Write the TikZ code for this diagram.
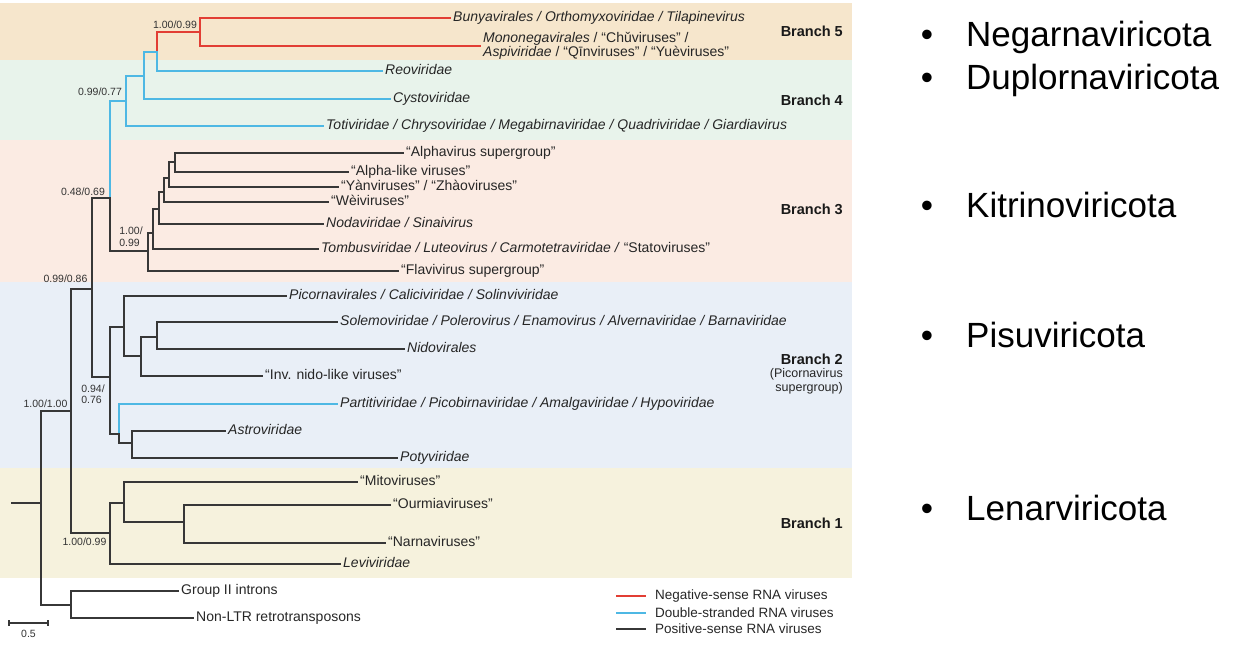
\documentclass[tikz,border=0pt]{standalone}
\usepackage{fontspec}
\setmainfont{Liberation Sans}
\definecolor{negred}{RGB}{226,62,52}
\definecolor{dsblue}{RGB}{78,184,228}
\definecolor{poscol}{RGB}{55,55,55}
\definecolor{bandA}{RGB}{246,230,204}
\definecolor{bandB}{RGB}{232,243,235}
\definecolor{bandC}{RGB}{251,235,227}
\definecolor{bandD}{RGB}{233,239,247}
\definecolor{bandE}{RGB}{246,242,221}
\tikzset{
  treeline/.style={line width=1.5pt, line cap=rect, line join=miter},
  posline/.style={treeline, draw=poscol},
  negline/.style={treeline, draw=negred},
  dsline/.style={treeline, draw=dsblue},
  leaf/.style={anchor=west, inner xsep=3pt, inner ysep=0pt, text height=10pt, text depth=3pt, font=\fontsize{14}{14}\selectfont, text=black!85},
  twoline/.style={anchor=west, inner xsep=3pt, inner ysep=0pt, align=left, font=\fontsize{14}{11.5}\selectfont, text=black!85},
  sup/.style={font=\fontsize{10.5}{11.5}\selectfont, inner sep=0pt, text=black!80, align=left},
  brlab/.style={anchor=east, inner sep=0pt, font=\fontsize{14.5}{15}\selectfont\bfseries, text=black!90},
  brsub/.style={anchor=east, inner sep=0pt, font=\fontsize{12.5}{13}\selectfont, text=black!85},
  legtext/.style={anchor=west, inner sep=0pt, font=\fontsize{13.5}{14}\selectfont, text=black!85},
  bigtext/.style={anchor=base west, inner sep=0pt, font=\fontsize{35}{38}\selectfont},
  bulmark/.style={anchor=base, inner sep=0pt, font=\fontsize{35}{38}\selectfont}
}
\begin{document}
\begin{tikzpicture}[x=1pt,y=-1pt]
\useasboundingbox (0,0) rectangle (1234,645);
% background bands
\fill[bandA] (0,3) rectangle (852,60);
\fill[bandB] (0,60) rectangle (852,140);
\fill[bandC] (0,140) rectangle (852,282);
\fill[bandD] (0,282) rectangle (852,468);
\fill[bandE] (0,468) rectangle (852,578);

% leaves
\node[leaf] (bunya) at (450,18) {\textit{Bunyavirales / Orthomyxoviridae / Tilapinevirus}};
\node[twoline] (mono) at (480,46) {\textit{Mononegavirales} / “Chǔviruses” /\\\textit{Aspiviridae} / “Qīnviruses” / “Yuèviruses”};
\node[leaf] (reo) at (382,71) {\textit{Reoviridae}};
\node[leaf] (cysto) at (390,99) {\textit{Cystoviridae}};
\node[leaf] (toti) at (323,126) {\textit{Totiviridae / Chrysoviridae / Megabirnaviridae / Quadriviridae / Giardiavirus}};
\node[leaf] (alpha) at (403,153) {“Alphavirus supergroup”};
\node[leaf] (alphal) at (348,172) {“Alpha-like viruses”};
\node[leaf] (yan) at (338,187) {“Yànviruses” / “Zhàoviruses”};
\node[leaf] (wei) at (328,202) {“Wèiviruses”};
\node[leaf] (noda) at (323,224) {\textit{Nodaviridae / Sinaivirus}};
\node[leaf] (tombus) at (318,249) {\textit{Tombusviridae / Luteovirus / Carmotetraviridae /} “Statoviruses”};
\node[leaf] (flavi) at (398,271) {“Flavivirus supergroup”};
\node[leaf] (picorna) at (286,296) {\textit{Picornavirales / Caliciviridae / Solinviviridae}};
\node[leaf] (solemo) at (337,322) {\textit{Solemoviridae / Polerovirus / Enamovirus / Alvernaviridae / Barnaviridae}};
\node[leaf] (nido) at (404,349) {\textit{Nidovirales}};
\node[leaf] (inv) at (262,376) {“Inv. nido-like viruses”};
\node[leaf] (partiti) at (337,404) {\textit{Partitiviridae / Picobirnaviridae / Amalgaviridae / Hypoviridae}};
\node[leaf] (astro) at (225,431) {\textit{Astroviridae}};
\node[leaf] (poty) at (397,458) {\textit{Potyviridae}};
\node[leaf] (mito) at (357,482) {“Mitoviruses”};
\node[leaf] (ourmia) at (390,505) {“Ourmiaviruses”};
\node[leaf] (narna) at (385,543) {“Narnaviruses”};
\node[leaf] (levi) at (340,564) {\textit{Leviviridae}};
\node[leaf] (group2) at (178,591) {Group II introns};
\node[leaf] (nonltr) at (193,618) {Non-LTR retrotransposons};

% internal nodes
\coordinate (n200) at (200,32);
\coordinate (n157) at (157,52);
\coordinate (n144) at (144,76);
\coordinate (n126) at (126,101);
\coordinate (n110) at (110,198);
\coordinate (n175) at (175,162);
\coordinate (n169) at (169,178);
\coordinate (n164) at (164,192);
\coordinate (n158) at (159,209);
\coordinate (n152) at (153,233);
\coordinate (n147) at (148,251);
\coordinate (n92) at (92,289);
\coordinate (nB2) at (110,377);
\coordinate (nP) at (124,327);
\coordinate (nN) at (141,356);
\coordinate (nS) at (157,337);
\coordinate (nQ) at (119,434);
\coordinate (nA) at (132,443);
\coordinate (n70) at (71,411);
\coordinate (nB1) at (110,533);
\coordinate (nM) at (124,503);
\coordinate (nO) at (184,522);
\coordinate (root) at (41,503);
\coordinate (nout) at (71,605);
\coordinate (stub) at (12,503);

% negative-sense
\draw[negline] (n200) |- (bunya.west);
\draw[negline] (n200) |- (mono.west);
\draw[negline] (n157) |- (n200);
% double-stranded
\draw[dsline] (n157) |- (reo.west);
\draw[dsline] (n144) |- (n157);
\draw[dsline] (n144) |- (cysto.west);
\draw[dsline] (n126) |- (n144);
\draw[dsline] (n126) |- (toti.west);
\draw[dsline] (n110) |- (n126);
\draw[dsline] (nQ) |- (partiti.west);
% positive-sense
\draw[posline] (n110) |- (n147);
\draw[posline] (n147) |- (n152);
\draw[posline] (n147) |- (flavi.west);
\draw[posline] (n152) |- (n158);
\draw[posline] (n152) |- (tombus.west);
\draw[posline] (n158) |- (n164);
\draw[posline] (n158) |- (noda.west);
\draw[posline] (n164) |- (n169);
\draw[posline] (n164) |- (wei.west);
\draw[posline] (n169) |- (n175);
\draw[posline] (n169) |- (yan.west);
\draw[posline] (n175) |- (alpha.west);
\draw[posline] (n175) |- (alphal.west);
\draw[posline] (n92) |- (n110);
\draw[posline] (n92) |- (nB2);
\draw[posline] (nB2) |- (nP);
\draw[posline] (nB2) |- (nQ);
\draw[posline] (nP) |- (picorna.west);
\draw[posline] (nP) |- (nN);
\draw[posline] (nN) |- (nS);
\draw[posline] (nN) |- (inv.west);
\draw[posline] (nS) |- (solemo.west);
\draw[posline] (nS) |- (nido.west);
\draw[posline] (nQ) |- (nA);
\draw[posline] (nA) |- (astro.west);
\draw[posline] (nA) |- (poty.west);
\draw[posline] (n70) |- (n92);
\draw[posline] (n70) |- (nB1);
\draw[posline] (nB1) |- (nM);
\draw[posline] (nB1) |- (levi.west);
\draw[posline] (nM) |- (mito.west);
\draw[posline] (nM) |- (nO);
\draw[posline] (nO) |- (ourmia.west);
\draw[posline] (nO) |- (narna.west);
\draw[posline] (root) |- (n70);
\draw[posline] (root) |- (nout);
\draw[posline] (stub) -- (root);
\draw[posline] (nout) |- (group2.west);
\draw[posline] (nout) |- (nonltr.west);

% support values
\node[sup] (s1) at (175,24.5) {1.00/0.99};
\node[sup] (s2) at (100,92) {0.99/0.77};
\node[sup] (s3) at (83,191.5) {0.48/0.69};
\node[sup] (s4) at (131,236.5) {1.00/\\0.99};
\node[sup] (s5) at (65.5,279) {0.99/0.86};
\node[sup] (s6) at (93,394) {0.94/\\0.76};
\node[sup] (s7) at (45.5,404) {1.00/1.00};
\node[sup] (s8) at (84.5,541.7) {1.00/0.99};

% branch labels
\node[brlab] (b5) at (843,31) {Branch 5};
\node[brlab] (b4) at (843,100) {Branch 4};
\node[brlab] (b3) at (843,209) {Branch 3};
\node[brlab] (b2) at (843,359) {Branch 2};
\node[brsub] (b2a) at (843,374) {(Picornavirus};
\node[brsub] (b2b) at (843,388) {supergroup)};
\node[brlab] (b1) at (843,523) {Branch 1};

% legend
\coordinate (lg1a) at (616,596); \coordinate (lg1b) at (646,596);
\coordinate (lg2a) at (616,613); \coordinate (lg2b) at (646,613);
\coordinate (lg3a) at (616,629); \coordinate (lg3b) at (646,629);
\draw[negline, line cap=butt] (lg1a) -- (lg1b);
\draw[dsline, line cap=butt] (lg2a) -- (lg2b);
\draw[posline, line cap=butt] (lg3a) -- (lg3b);
\node[legtext] (leg1) at (655,596) {Negative-sense RNA viruses};
\node[legtext] (leg2) at (655,612.5) {Double-stranded RNA viruses};
\node[legtext] (leg3) at (655,629) {Positive-sense RNA viruses};

% scale bar
\coordinate (sb1) at (9,623); \coordinate (sb2) at (48,623);
\draw[poscol, line width=1.2pt] (sb1) -- (sb2);
\draw[poscol, line width=1.2pt] ([yshift=3pt]sb1) -- ([yshift=-3pt]sb1);
\draw[poscol, line width=1.2pt] ([yshift=3pt]sb2) -- ([yshift=-3pt]sb2);
\node[sup] (sbl) at (28.5,634) {0.5};

% phylum list
\node[bulmark] (m1) at (927,46) {•};
\node[bigtext] (k1) at (966,46) {Negarnaviricota};
\node[bulmark] (m2) at (927,89) {•};
\node[bigtext] (k2) at (966,89) {Duplornaviricota};
\node[bulmark] (m3) at (927,217) {•};
\node[bigtext] (k3) at (966,217) {Kitrinoviricota};
\node[bulmark] (m4) at (927,347) {•};
\node[bigtext] (k4) at (966,347) {Pisuviricota};
\node[bulmark] (m5) at (927,520) {•};
\node[bigtext] (k5) at (966,520) {Lenarviricota};
\end{tikzpicture}
\end{document}
